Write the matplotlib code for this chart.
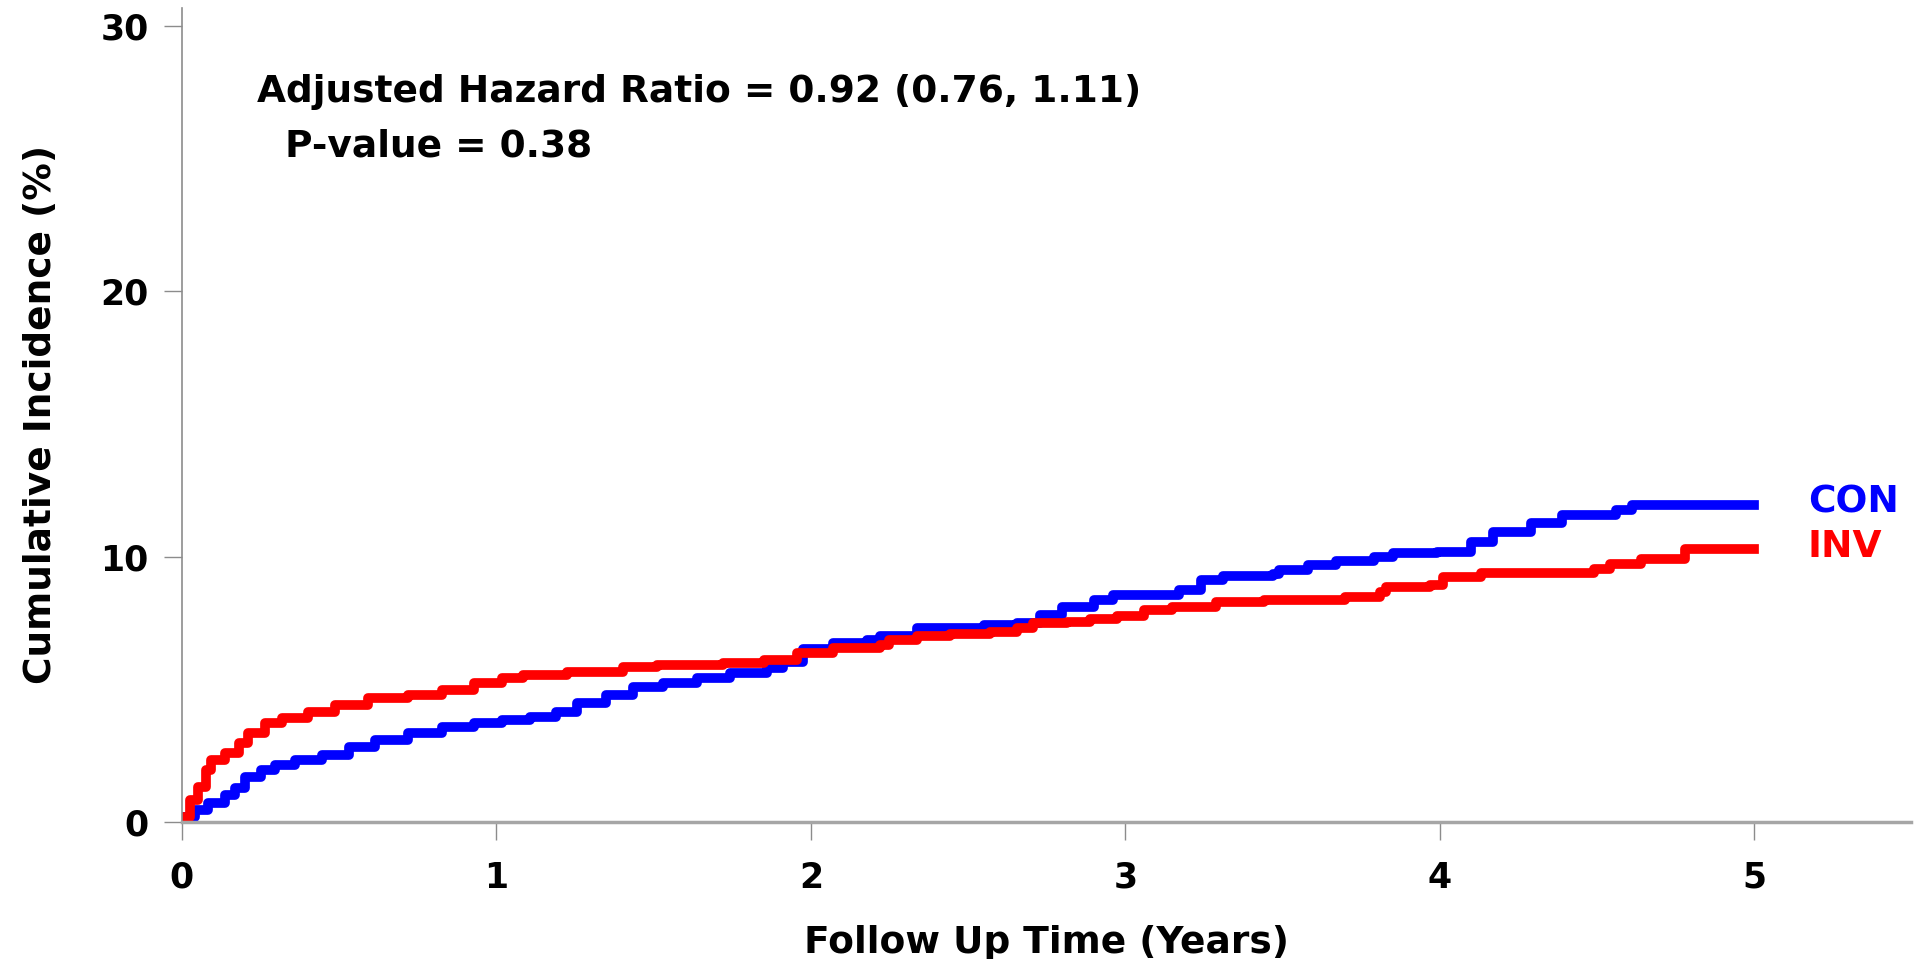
import matplotlib
matplotlib.use("Agg")
import matplotlib.pyplot as plt

# cumulative incidence (%), step curves
con_time = [0, 0.006, 0.041, 0.084, 0.137, 0.169, 0.2, 0.253, 0.296, 0.36, 0.444, 0.53,
            0.614, 0.72, 0.826, 0.93, 1.017, 1.107, 1.19, 1.255, 1.35, 1.435, 1.53, 1.637,
            1.743, 1.86, 1.91, 1.976, 2.07, 2.18, 2.22, 2.337, 2.55, 2.655, 2.73, 2.8,
            2.9, 2.96, 3.17, 3.24, 3.31, 3.47, 3.49, 3.58, 3.67, 3.79, 3.85, 3.99, 4.10,
            4.17, 4.29, 4.39, 4.56, 4.61, 5.0]
con_inc = [0, 0.2, 0.45, 0.7, 1.02, 1.27, 1.71, 1.96, 2.15, 2.34, 2.53, 2.84,
           3.09, 3.34, 3.57, 3.72, 3.84, 3.97, 4.16, 4.47, 4.79, 5.1, 5.23, 5.42,
           5.61, 5.79, 6.04, 6.5, 6.76, 6.86, 7.01, 7.3, 7.43, 7.51, 7.8, 8.12,
           8.37, 8.56, 8.74, 9.12, 9.27, 9.35, 9.5, 9.69, 9.84, 9.98, 10.12, 10.19, 10.57,
           10.94, 11.26, 11.57, 11.76, 11.95, 11.95]

inv_time = [0, 0.004, 0.025, 0.052, 0.078, 0.094, 0.137, 0.18, 0.21, 0.264, 0.317, 0.40,
            0.487, 0.593, 0.72, 0.826, 0.93, 1.017, 1.086, 1.224, 1.404, 1.51, 1.72, 1.85,
            1.955, 2.07, 2.22, 2.25, 2.337, 2.443, 2.57, 2.655, 2.708, 2.814, 2.888, 2.973,
            3.06, 3.15, 3.29, 3.44, 3.7, 3.81, 3.83, 3.97, 4.01, 4.13, 4.49, 4.54, 4.64,
            4.78, 5.0]
inv_inc = [0, 0.2, 0.83, 1.33, 1.96, 2.34, 2.59, 2.97, 3.34, 3.72, 3.91, 4.16,
           4.41, 4.66, 4.79, 4.98, 5.23, 5.42, 5.54, 5.66, 5.83, 5.92, 5.98, 6.1,
           6.36, 6.55, 6.67, 6.86, 7.01, 7.09, 7.17, 7.3, 7.49, 7.55, 7.64, 7.76,
           7.99, 8.12, 8.3, 8.36, 8.49, 8.68, 8.87, 8.94, 9.25, 9.37, 9.52, 9.74, 9.93,
           10.3, 10.3]

x_ticks = [0, 1, 2, 3, 4, 5]
y_ticks = [0, 10, 20, 30]

hr_text = "Adjusted Hazard Ratio = 0.92 (0.76, 1.11)"
p_text = "P-value = 0.38"

plt.rcParams.update({
    "font.family": "DejaVu Sans",
    "font.weight": "bold",
})

fig = plt.figure(figsize=(19.21, 9.59), dpi=100)
ax = fig.add_axes([0.0947, 0.143, 0.9003, 0.849])

ax.plot(con_time, con_inc, drawstyle="steps-post", color="#0000ff", linewidth=7)
ax.plot(inv_time, inv_inc, drawstyle="steps-post", color="#ff0000", linewidth=7)

ax.set_xlim(0, 5.5)
ax.set_ylim(0, 30.7)
ax.set_xticks(x_ticks)
ax.set_yticks(y_ticks)

for s in ["top", "right"]:
    ax.spines[s].set_visible(False)
ax.spines["left"].set_color("#8c8c8c")
ax.spines["left"].set_linewidth(1.2)
ax.spines["bottom"].set_color("#a6a6a6")
ax.spines["bottom"].set_linewidth(2.5)

ax.tick_params(axis="both", direction="out", length=13, width=1, color="#8c8c8c",
               labelsize=25, pad=11)
ax.tick_params(axis="x", pad=15)
for lab in ax.get_xticklabels() + ax.get_yticklabels():
    lab.set_fontweight("bold")

ax.set_xlabel("Follow Up Time (Years)", fontsize=27, fontweight="bold", labelpad=22)
ax.set_ylabel("Cumulative Incidence (%)", fontsize=27, fontweight="bold", labelpad=30)

ax.text(0.0434, 0.897, hr_text, transform=ax.transAxes, fontsize=27,
        fontweight="bold", va="center", ha="left")
ax.text(0.0595, 0.829, p_text, transform=ax.transAxes, fontsize=27,
        fontweight="bold", va="center", ha="left")

ax.text(0.94, 0.392, "CON", transform=ax.transAxes, fontsize=27, fontweight="bold",
        color="#0000ff", va="center", ha="left")
ax.text(0.94, 0.337, "INV", transform=ax.transAxes, fontsize=27, fontweight="bold",
        color="#ff0000", va="center", ha="left")

fig.savefig("out.png", dpi=100)
